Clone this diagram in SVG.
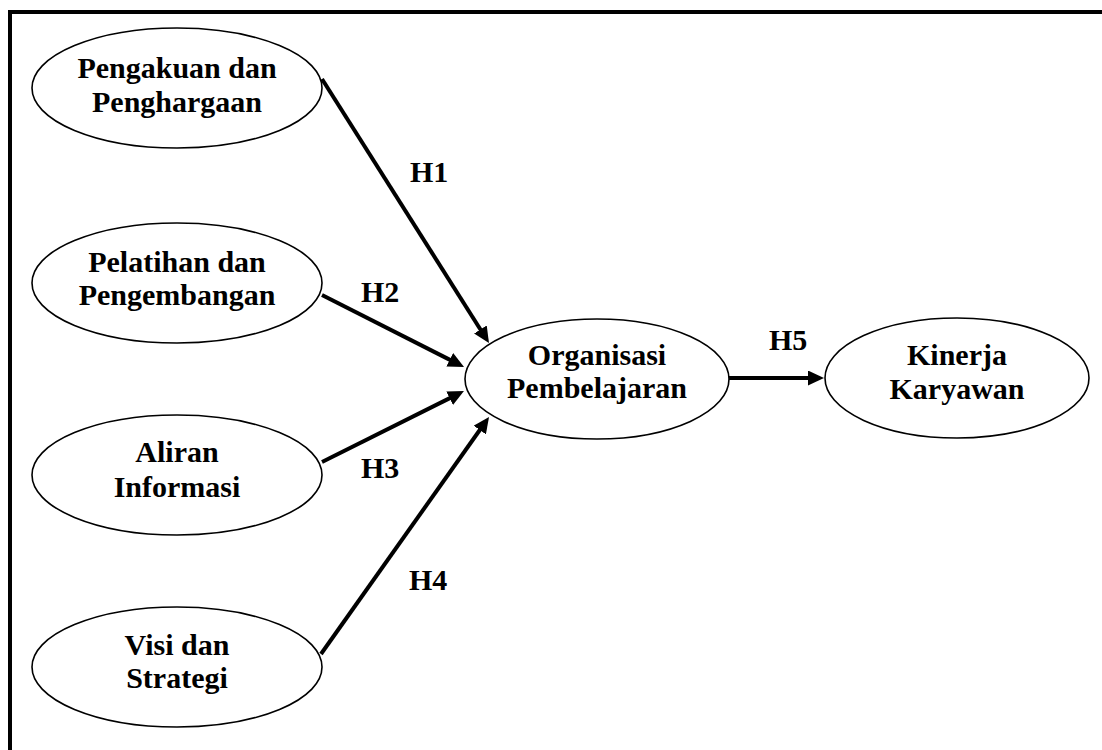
<svg xmlns="http://www.w3.org/2000/svg" width="1102" height="750" viewBox="0 0 1102 750">
  <style>
    .node ellipse { fill: #ffffff; stroke: #000000; stroke-width: 1.6; }
    .node text, .label { font-family: "Liberation Serif", "Times New Roman", serif; font-weight: bold; font-size: 30px; fill: #000000; }
    .node text { text-anchor: middle; }
    .edge { stroke: #000000; stroke-width: 4; fill: none; marker-end: url(#arrow); }
  </style>
  <defs>
    <marker id="arrow" markerUnits="userSpaceOnUse" markerWidth="16" markerHeight="15" refX="8" refY="7.5" orient="auto">
      <path d="M0,0 L16,7.5 L0,15 z" fill="#000000"/>
    </marker>
  </defs>

  <rect width="1102" height="750" fill="#ffffff"/>
  <!-- outer frame -->
  <rect x="10" y="12" width="1110" height="760" fill="none" stroke="#000000" stroke-width="4"/>

  <!-- connectors -->
  <g id="connectors">
    <line class="edge" x1="322" y1="79" x2="484.7" y2="336.2"/>
    <line class="edge" x1="322" y1="295" x2="456.9" y2="363.4"/>
    <line class="edge" x1="322" y1="462" x2="456.8" y2="394.6"/>
    <line class="edge" x1="321" y1="654" x2="484.4" y2="423.5"/>
    <line class="edge" x1="729" y1="378" x2="816" y2="378"/>
    <text class="label" x="410" y="182">H1</text>
    <text class="label" x="361" y="302">H2</text>
    <text class="label" x="361" y="478">H3</text>
    <text class="label" x="409" y="590">H4</text>
    <text class="label" x="769" y="350">H5</text>
  </g>

  <!-- nodes -->
  <g id="pengakuan" class="node">
    <ellipse cx="177" cy="88" rx="145" ry="60"/>
    <text x="177" y="78">Pengakuan dan</text>
    <text x="177" y="112">Penghargaan</text>
  </g>
  <g id="pelatihan" class="node">
    <ellipse cx="177" cy="283" rx="145" ry="60"/>
    <text x="177" y="272">Pelatihan dan</text>
    <text x="177" y="305">Pengembangan</text>
  </g>
  <g id="aliran" class="node">
    <ellipse cx="177" cy="475" rx="145" ry="60"/>
    <text x="177" y="462">Aliran</text>
    <text x="177" y="497">Informasi</text>
  </g>
  <g id="visi" class="node">
    <ellipse cx="177" cy="667" rx="145" ry="60"/>
    <text x="177" y="655">Visi dan</text>
    <text x="177" y="688">Strategi</text>
  </g>
  <g id="organisasi" class="node">
    <ellipse cx="597" cy="379" rx="132" ry="60"/>
    <text x="597" y="365">Organisasi</text>
    <text x="597" y="398">Pembelajaran</text>
  </g>
  <g id="kinerja" class="node">
    <ellipse cx="957" cy="378" rx="132" ry="60"/>
    <text x="957" y="365">Kinerja</text>
    <text x="957" y="399">Karyawan</text>
  </g>
</svg>
